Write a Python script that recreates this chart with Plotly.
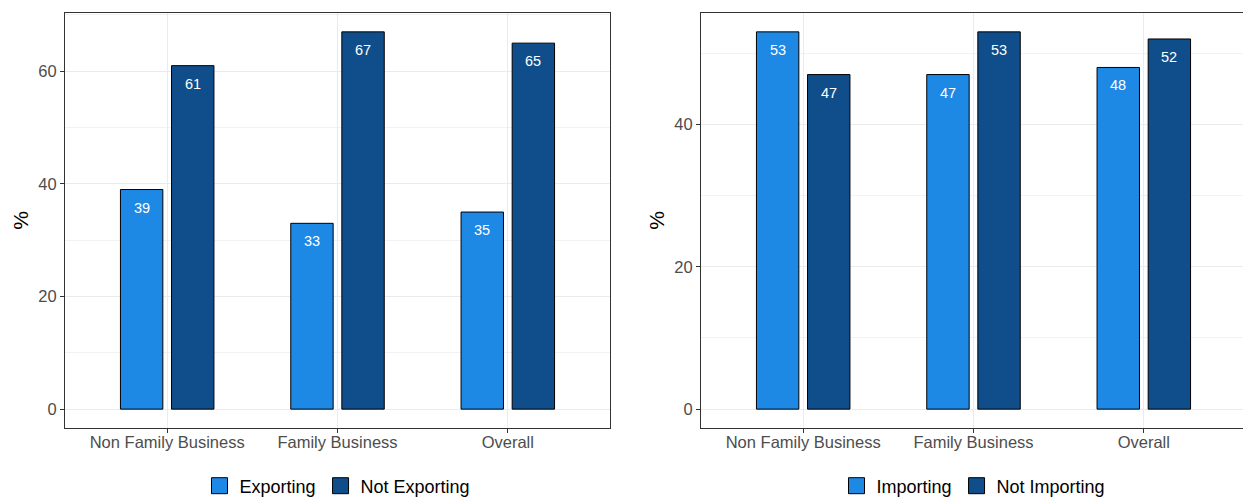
import plotly.graph_objects as go

categories = ["Non Family Business", "Family Business", "Overall"]
exporting = [39, 33, 35]
not_exporting = [61, 67, 65]
importing = [53, 47, 48]
not_importing = [47, 53, 52]

light = "#1E88E5"
dark = "#0F4E8B"
FONT = "Liberation Sans, Arial, sans-serif"

W, H = 1243, 498
def px(x):
    return x / W
def py(y):
    return 1 - y / H

fig = go.Figure()

DODGE = 0.15

def add_bar(vals, name, color, xa, ya, legend, side):
    fig.add_trace(go.Bar(
        x=categories, y=vals, name=name,
        marker=dict(color=color, line=dict(color="black", width=1)),
        xaxis=xa, yaxis=ya, showlegend=False, hoverinfo="x+y",
    ))
    # legend proxy (larger square key)
    fig.add_trace(go.Scatter(
        x=[None], y=[None], mode="markers", name=name,
        marker=dict(symbol="square", size=16, color=color, line=dict(color="black", width=1)),
        xaxis=xa, yaxis=ya, legend=legend, showlegend=True,
    ))
    for i, v in enumerate(vals):
        fig.add_annotation(
            x=i + side * DODGE, y=v, xref=xa, yref=ya, text=str(v), showarrow=False,
            yanchor="middle", yshift=-18,
            font=dict(family=FONT, size=14.5, color="white"),
        )

add_bar(exporting, "Exporting", light, "x", "y", "legend", -1)
add_bar(not_exporting, "Not Exporting", dark, "x", "y", "legend", 1)
add_bar(importing, "Importing", light, "x2", "y2", "legend2", -1)
add_bar(not_importing, "Not Importing", dark, "x2", "y2", "legend2", 1)

ydom = [py(428), py(13)]
common_x = dict(
    type="category", showgrid=True, gridcolor="#EBEBEB", gridwidth=1,
    showline=True, linecolor="#333333", linewidth=1, mirror=True,
    ticks="outside", ticklen=4, tickcolor="#333333", automargin=False,
    ticklabelstandoff=-5,
    tickfont=dict(family=FONT, size=16.5, color="#4D4D4D"), zeroline=False,
)
common_y = dict(
    showgrid=True, gridcolor="#EBEBEB", gridwidth=1,
    showline=True, linecolor="#333333", linewidth=1, mirror=True,
    ticks="outside", ticklen=4, tickcolor="#333333", automargin=False,
    tickfont=dict(family=FONT, size=16.5, color="#4D4D4D"), zeroline=False,
    title=dict(text="%", font=dict(family=FONT, size=21, color="black"), standoff=3),
    minor=dict(dtick=10, showgrid=True, gridcolor="#F2F2F2", gridwidth=0.6),
    domain=ydom, dtick=20,
)

# right panel is clipped by the image edge in the reference: same scale as left panel
unit = (610 - 65) / 3.2
leg = dict(orientation="h", xanchor="center", y=py(486), yanchor="middle",
           font=dict(family=FONT, size=18, color="black"), bgcolor="rgba(0,0,0,0)",
           itemsizing="trace", borderwidth=0)
fig.update_layout(
    width=W, height=H,
    margin=dict(l=0, r=0, t=0, b=0, autoexpand=False),
    paper_bgcolor="white", plot_bgcolor="white",
    barmode="group", bargap=0.4, bargroupgap=0.17,
    font=dict(family=FONT),
    xaxis=dict(common_x, domain=[px(65), px(610)], anchor="y", range=[-0.6, 2.6]),
    yaxis=dict(common_y, range=[-3.35, 70.35], anchor="x"),
    xaxis2=dict(common_x, domain=[px(701), 1.0], anchor="y2",
                range=[-0.6, -0.6 + (W - 701) / unit]),
    yaxis2=dict(common_y, range=[-2.65, 55.65], anchor="x2"),
    legend=dict(leg, x=px((65 + 610) / 2)),
    legend2=dict(leg, x=px((701 + 1246) / 2)),
)

fig.write_html("out.html", config={"displayModeBar": False},
               post_script="document.body.style.margin='0px';document.body.style.overflow='hidden';")
